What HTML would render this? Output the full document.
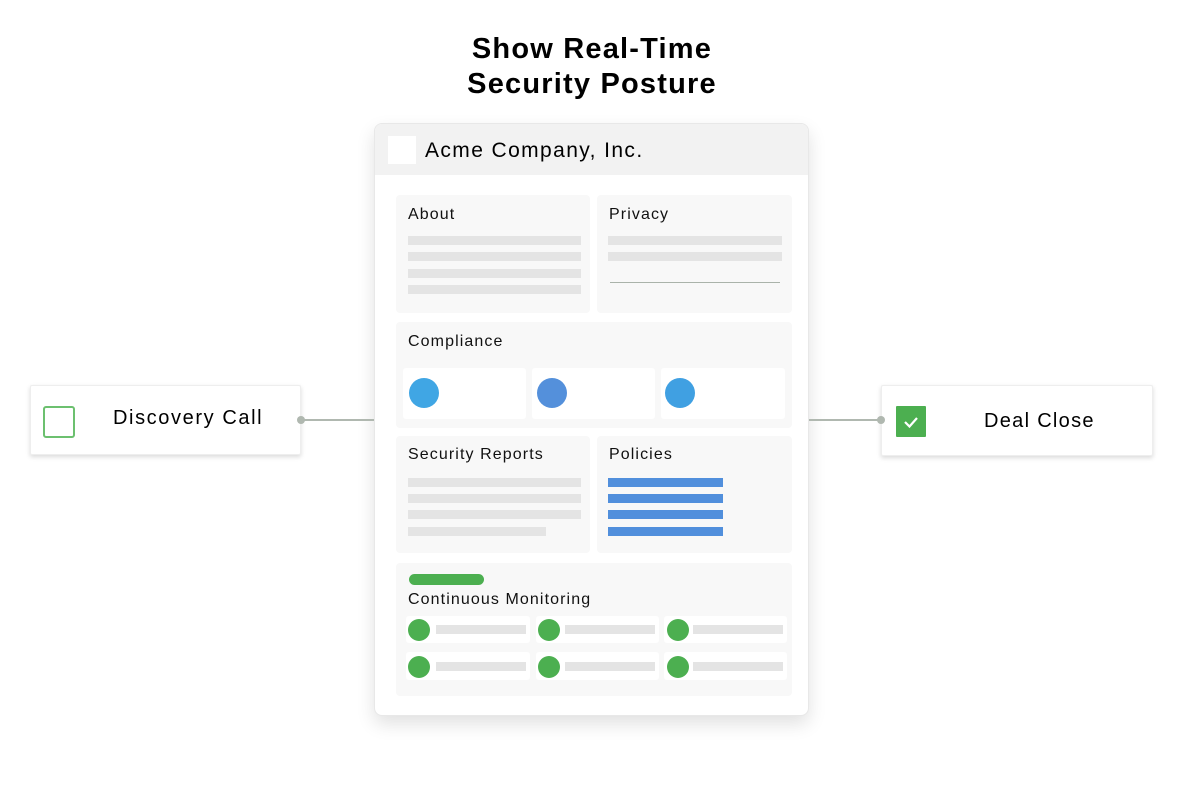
<!DOCTYPE html>
<html><head><style>
*{margin:0;padding:0;box-sizing:border-box}
body{width:1184px;height:788px;background:#fff;position:relative;font-family:"Liberation Sans",sans-serif;color:#111;overflow:hidden}
.a{position:absolute}
.p{position:absolute;background:#f8f8f8;border-radius:4px}
.t{position:absolute;font-size:16px;line-height:18px;letter-spacing:1.1px}
.g{position:absolute;background:#e4e4e4;height:9px}
.b{position:absolute;background:#518fdc;height:9px}
.w{position:absolute;background:#fff;border-radius:3px}
.c{position:absolute;border-radius:50%}
</style></head><body>
<div class="a" style="left:0;top:32px;width:1184px;text-align:center;font-size:29px;font-weight:bold;line-height:35px;color:#000;letter-spacing:1.2px">Show Real-Time<br>Security Posture</div>

<div class="a" style="left:374px;top:123px;width:435px;height:593px;background:#fff;border:1px solid #e8e8e8;border-radius:8px;box-shadow:0 8px 18px rgba(0,0,0,0.12);overflow:hidden">
 <div class="a" style="left:0;top:0;width:435px;height:51px;background:#f2f2f2"></div>
 <div class="a" style="left:13px;top:12px;width:28px;height:28px;background:#fff"></div>
 <div class="a" style="left:50px;top:14px;font-size:21px;line-height:26px;color:#000;letter-spacing:1.4px">Acme Company, Inc.</div>
</div>

<div class="p" style="left:396px;top:195px;width:194px;height:118px"></div>
<div class="t" style="left:408px;top:206px">About</div>
<div class="g" style="left:408px;top:236px;width:173px"></div>
<div class="g" style="left:408px;top:252px;width:173px"></div>
<div class="g" style="left:408px;top:269px;width:173px"></div>
<div class="g" style="left:408px;top:285px;width:173px"></div>

<div class="p" style="left:597px;top:195px;width:195px;height:118px"></div>
<div class="t" style="left:609px;top:206px">Privacy</div>
<div class="g" style="left:608px;top:236px;width:174px"></div>
<div class="g" style="left:608px;top:252px;width:174px"></div>
<div class="a" style="left:610px;top:282px;width:170px;height:1px;background:#aab3aa"></div>

<div class="p" style="left:396px;top:322px;width:396px;height:106px"></div>
<div class="t" style="left:408px;top:333px">Compliance</div>
<div class="w" style="left:403px;top:368px;width:123px;height:51px"></div>
<div class="w" style="left:532px;top:368px;width:123px;height:51px"></div>
<div class="w" style="left:661px;top:368px;width:124px;height:51px"></div>
<div class="c" style="left:409px;top:378px;width:30px;height:30px;background:#40a6e4"></div>
<div class="c" style="left:537px;top:378px;width:30px;height:30px;background:#5490db"></div>
<div class="c" style="left:665px;top:378px;width:30px;height:30px;background:#40a0e2"></div>

<div class="p" style="left:396px;top:436px;width:194px;height:117px"></div>
<div class="t" style="left:408px;top:446px">Security Reports</div>
<div class="g" style="left:408px;top:478px;width:173px"></div>
<div class="g" style="left:408px;top:494px;width:173px"></div>
<div class="g" style="left:408px;top:510px;width:173px"></div>
<div class="g" style="left:408px;top:527px;width:138px"></div>

<div class="p" style="left:597px;top:436px;width:195px;height:117px"></div>
<div class="t" style="left:609px;top:446px">Policies</div>
<div class="b" style="left:608px;top:478px;width:115px"></div>
<div class="b" style="left:608px;top:494px;width:115px"></div>
<div class="b" style="left:608px;top:510px;width:115px"></div>
<div class="b" style="left:608px;top:527px;width:115px"></div>

<div class="p" style="left:396px;top:563px;width:396px;height:133px"></div>
<div class="a" style="left:409px;top:574px;width:75px;height:11px;background:#4caf50;border-radius:6px"></div>
<div class="t" style="left:408px;top:591px">Continuous Monitoring</div>
<div class="w" style="left:406px;top:616px;width:124px;height:27px"></div>
<div class="w" style="left:536px;top:616px;width:123px;height:27px"></div>
<div class="w" style="left:664px;top:616px;width:123px;height:27px"></div>
<div class="w" style="left:406px;top:652px;width:124px;height:28px"></div>
<div class="w" style="left:536px;top:652px;width:123px;height:28px"></div>
<div class="w" style="left:664px;top:652px;width:123px;height:28px"></div>
<div class="c" style="left:408px;top:619px;width:22px;height:22px;background:#4caf50"></div>
<div class="c" style="left:538px;top:619px;width:22px;height:22px;background:#4caf50"></div>
<div class="c" style="left:667px;top:619px;width:22px;height:22px;background:#4caf50"></div>
<div class="c" style="left:408px;top:656px;width:22px;height:22px;background:#4caf50"></div>
<div class="c" style="left:538px;top:656px;width:22px;height:22px;background:#4caf50"></div>
<div class="c" style="left:667px;top:656px;width:22px;height:22px;background:#4caf50"></div>
<div class="g" style="left:436px;top:625px;width:90px"></div>
<div class="g" style="left:565px;top:625px;width:90px"></div>
<div class="g" style="left:693px;top:625px;width:90px"></div>
<div class="g" style="left:436px;top:662px;width:90px"></div>
<div class="g" style="left:565px;top:662px;width:90px"></div>
<div class="g" style="left:693px;top:662px;width:90px"></div>

<div class="a" style="left:301px;top:419px;width:73px;height:2px;background:#b0b8b0"></div>
<div class="a" style="left:809px;top:419px;width:72px;height:2px;background:#b0b8b0"></div>

<div class="a" style="left:30px;top:385px;width:271px;height:70px;background:#fff;border:1px solid #eee;border-radius:2px;box-shadow:0 2px 5px rgba(0,0,0,0.15)"></div>
<div class="a" style="left:43px;top:406px;width:32px;height:32px;border:2px solid #6cc06f;border-radius:3px"></div>
<div class="a" style="left:113px;top:406px;font-size:20px;line-height:24px;color:#000;letter-spacing:1.6px">Discovery Call</div>
<div class="c" style="left:297px;top:416px;width:8px;height:8px;background:#b0b8b0"></div>

<div class="a" style="left:881px;top:385px;width:272px;height:71px;background:#fff;border:1px solid #eee;border-radius:2px;box-shadow:0 2px 5px rgba(0,0,0,0.15)"></div>
<div class="a" style="left:896px;top:406px;width:30px;height:31px;background:#4caf50;border-radius:1px"></div>
<svg class="a" style="left:896px;top:406px" width="30" height="31"><path d="M9 16 L13.5 20.5 L21 12" stroke="#fff" stroke-width="2.2" fill="none"/></svg>
<div class="a" style="left:984px;top:409px;font-size:20px;line-height:24px;color:#000;letter-spacing:1.3px">Deal Close</div>
<div class="c" style="left:877px;top:416px;width:8px;height:8px;background:#b0b8b0"></div>
</body></html>
